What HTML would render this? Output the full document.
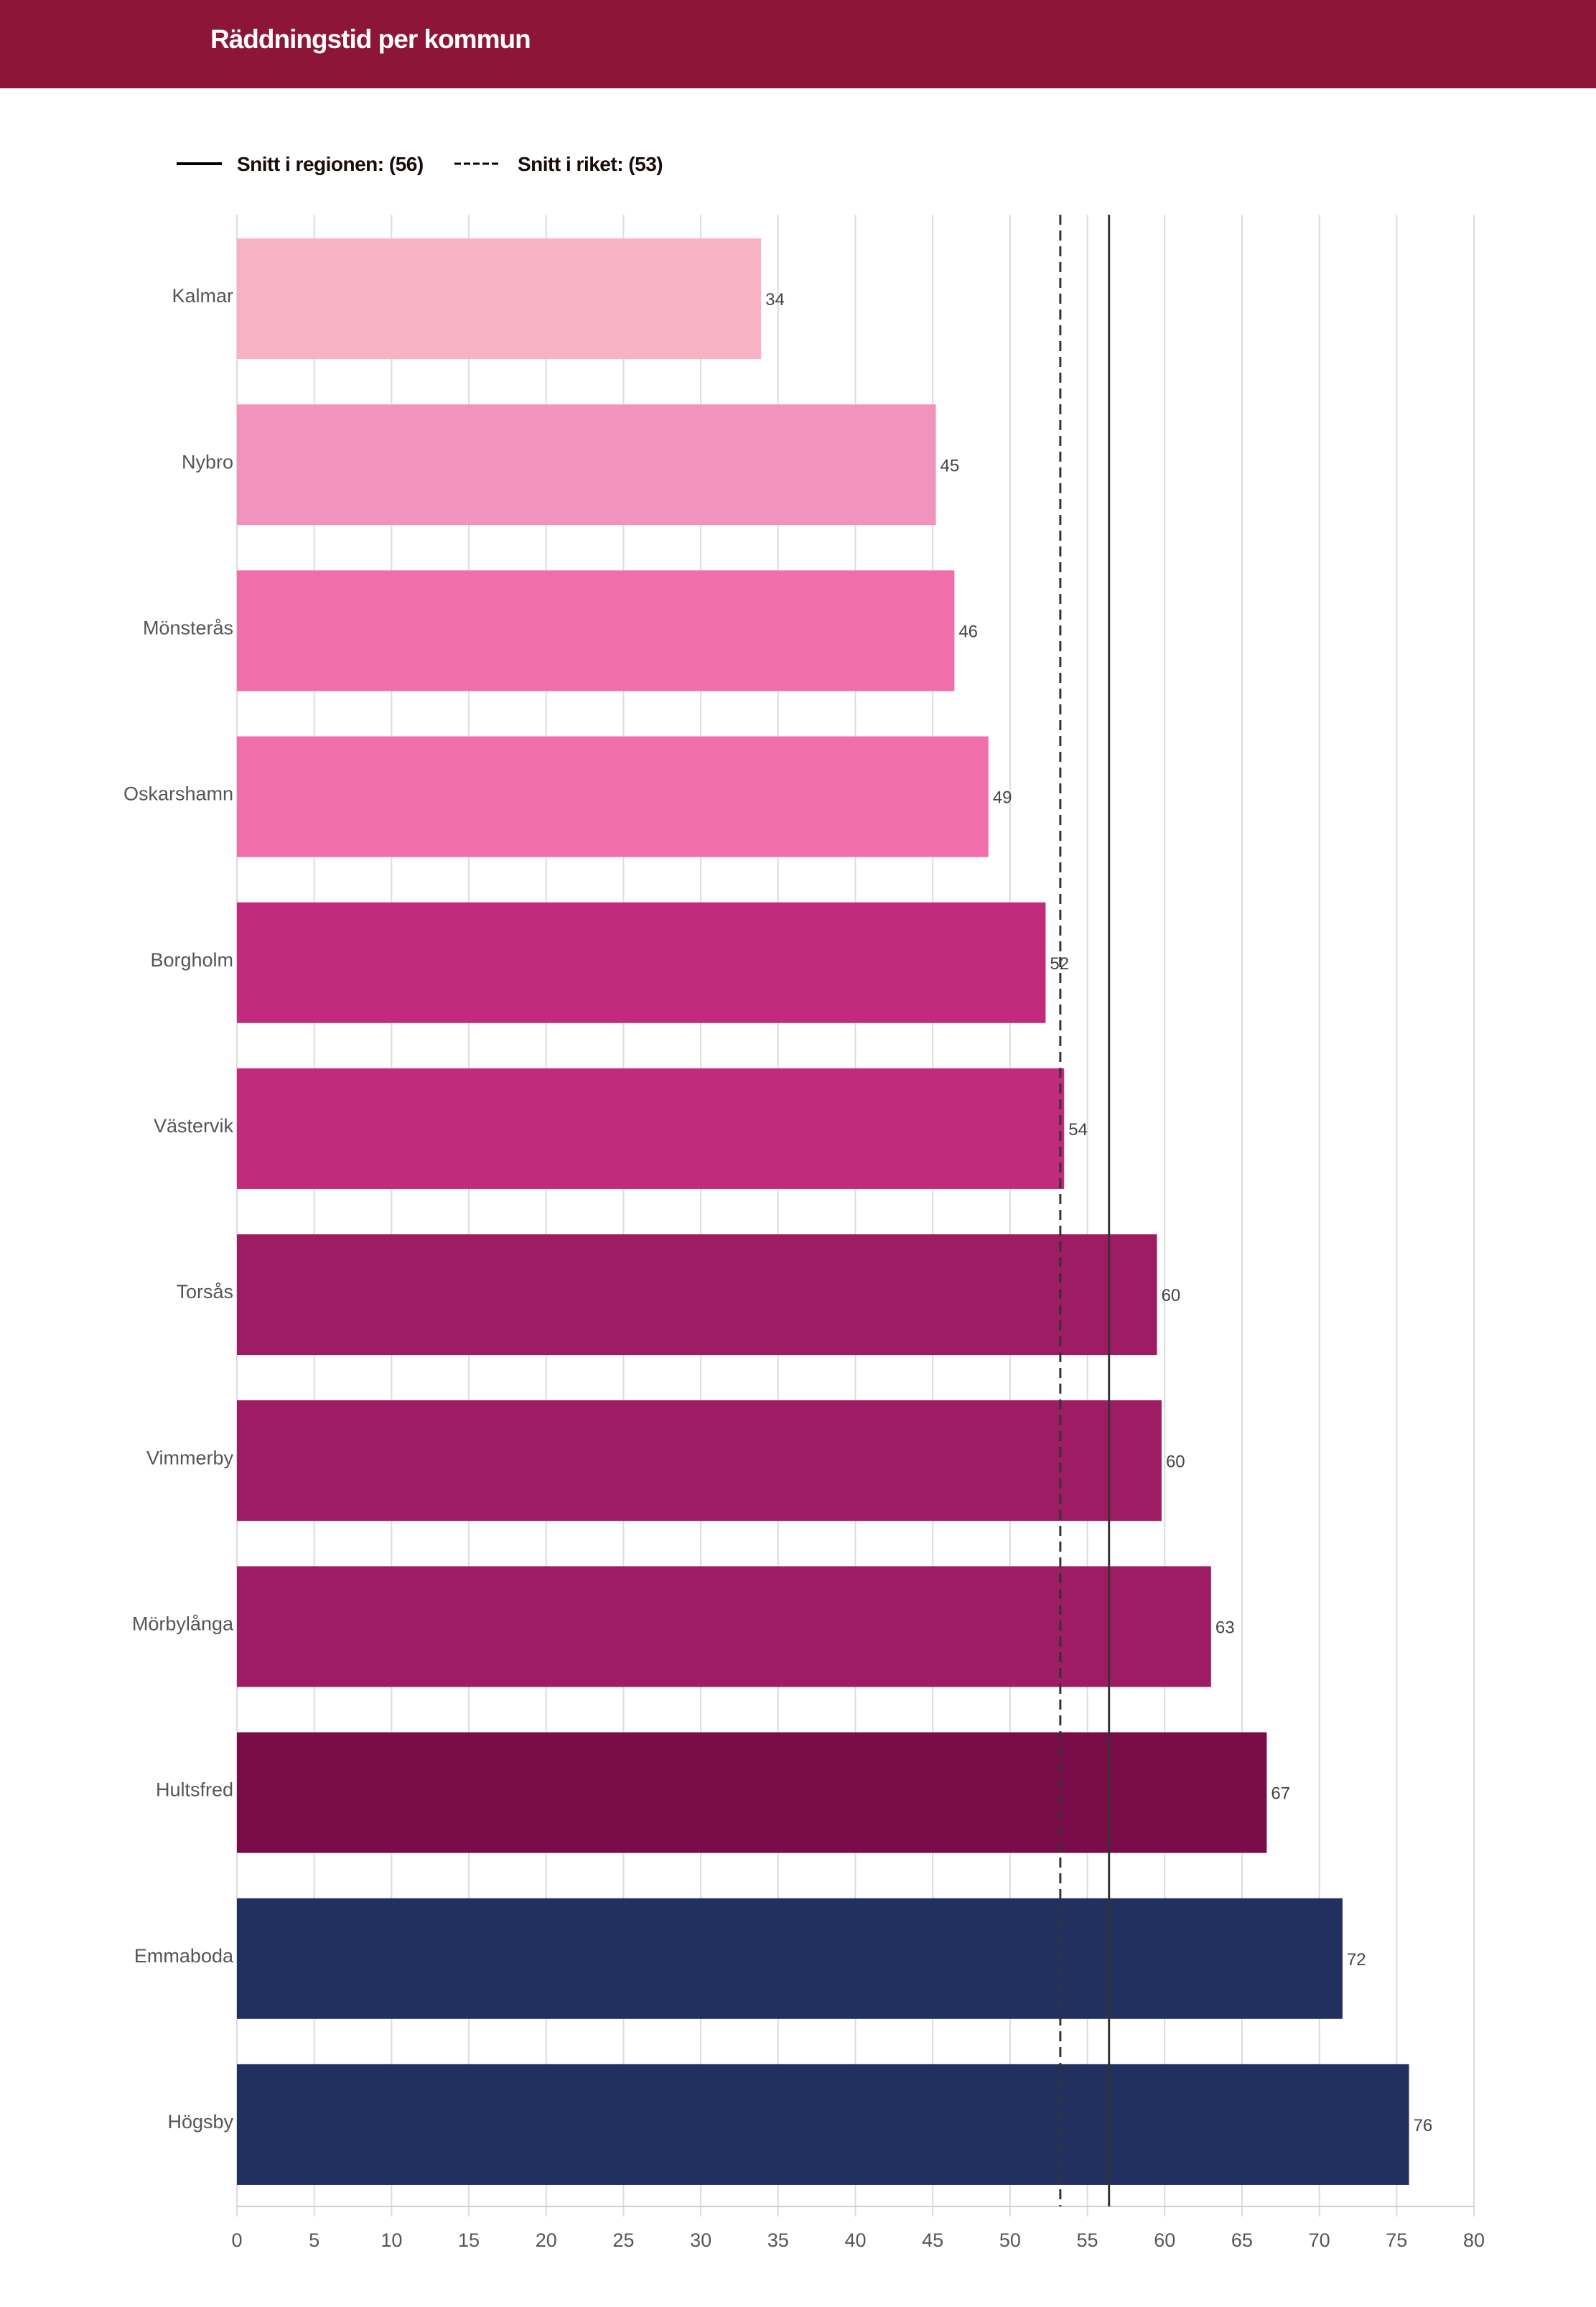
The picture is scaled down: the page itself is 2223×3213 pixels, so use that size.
<!DOCTYPE html>
<html><head><meta charset="utf-8">
<style>
html,body{margin:0;padding:0;background:#fff;}
body{width:2223px;height:3213px;position:relative;overflow:hidden;font-family:"Liberation Sans",sans-serif;}
#hdr{position:absolute;left:0;top:0;width:2223px;height:123px;background:#8c1538;}
#hdr span{position:absolute;left:293px;top:34px;color:#fff;font-size:37px;font-weight:bold;letter-spacing:-1px;}
svg{position:absolute;left:0;top:0;}
</style></head><body>
<div id="hdr"><span>Räddningstid per kommun</span></div>
<svg id="chart" width="2223" height="3213"></svg>
<script>
const categories=["Kalmar","Nybro","Mönsterås","Oskarshamn","Borgholm","Västervik","Torsås","Vimmerby","Mörbylånga","Hultsfred","Emmaboda","Högsby"];
const values=[33.9,45.2,46.4,48.6,52.3,53.5,59.5,59.8,63.0,66.6,71.5,75.8];
const valueLabels=["34","45","46","49","52","54","60","60","63","67","72","76"];
const colors=["#f7b2c4","#f293bd","#f06eaa","#f06eaa","#c22b7b","#c22b7b","#9e1c63","#9e1c63","#9e1c63","#7a0c49","#21305f","#21305f"];
const ticks=[0,5,10,15,20,25,30,35,40,45,50,55,60,65,70,75,80];
const regionAvg=56.4;
const nationAvg=53.25;
const legendLabels=["Snitt i regionen: (56)","Snitt i riket: (53)"];

const NS="http://www.w3.org/2000/svg";
const svg=document.getElementById('chart');
const x0=330,x1=2053,yTop=299,yBot=3073,xMax=80;
const band=(yBot-yTop)/categories.length;
const xs=v=>x0+(x1-x0)*v/xMax;
const yb=i=>yTop+band*i;
function mk(t,a){const e=document.createElementNS(NS,t);for(const k in a)e.setAttribute(k,a[k]);svg.appendChild(e);return e;}

ticks.forEach(t=>{
  const g=mk('line',{x1:xs(t),x2:xs(t),y1:yTop,y2:yBot+14,stroke:'#dcdcdc','stroke-width':2});
  
  
  const l=mk('text',{x:xs(t),y:3129,'text-anchor':'middle','font-size':27,fill:'#555'});
  l.textContent=t;
  
  
});
const ax=mk('line',{x1:x0,x2:x1,y1:yBot,y2:yBot,stroke:'#cfcfcf','stroke-width':2});



categories.forEach((c,i)=>{
  const top=yb(i)+band*0.143,h=band*0.727;
  const r=mk('rect',{x:x0,y:top,width:xs(values[i])-x0,height:h,fill:colors[i]});
  
  
  const cl=mk('text',{x:325,y:top+h/2+5,'text-anchor':'end','font-size':27,fill:'#555'});
  cl.textContent=c;
  
  
  const vl=mk('text',{x:xs(values[i])+6,y:top+h/2+9,'font-size':24,fill:'#444'});
  vl.textContent=valueLabels[i];
  
  
});

const rl=mk('line',{x1:xs(regionAvg),x2:xs(regionAvg),y1:yTop,y2:yBot,stroke:'#333','stroke-width':3});


const nl=mk('line',{x1:xs(nationAvg),x2:xs(nationAvg),y1:yTop,y2:yBot,stroke:'#333','stroke-width':3,'stroke-dasharray':'14,8'});



const l1=mk('line',{x1:246,x2:309,y1:228,y2:228,stroke:'#000','stroke-width':4});


const t1=mk('text',{x:330,y:238,'font-size':28,'font-weight':'bold',fill:'#1a0a0a','letter-spacing':'-0.5'});
t1.textContent=legendLabels[0];


const l2=mk('line',{x1:633,x2:697,y1:228,y2:228,stroke:'#000','stroke-width':3,'stroke-dasharray':'9,4'});


const t2=mk('text',{x:721,y:238,'font-size':28,'font-weight':'bold',fill:'#1a0a0a','letter-spacing':'-0.5'});
t2.textContent=legendLabels[1];


</script>
</body></html>
